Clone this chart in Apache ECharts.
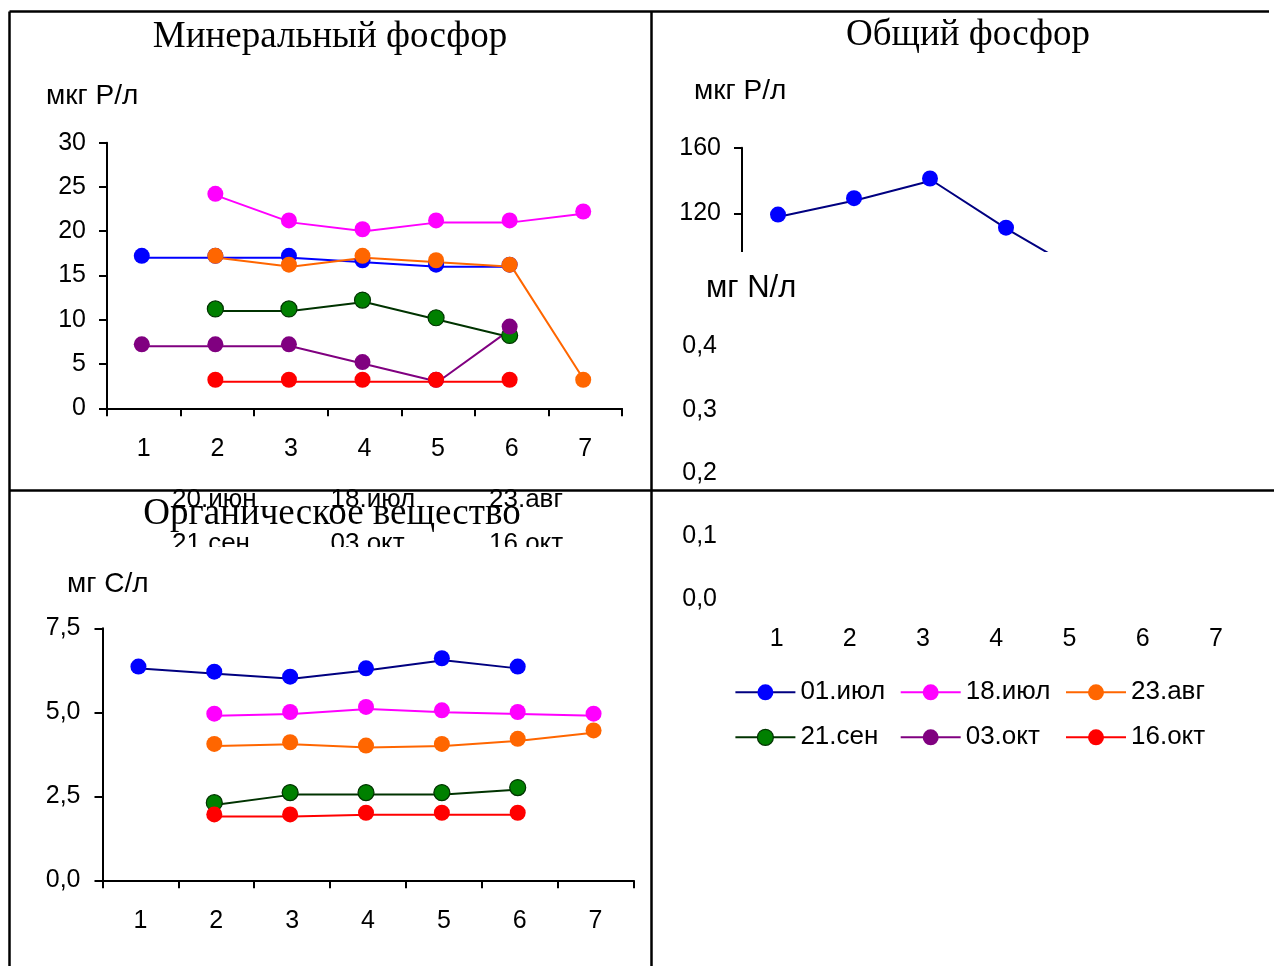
<!DOCTYPE html>
<html>
<head>
<meta charset="utf-8">
<title>Фосфор и органическое вещество</title>
<script src="https://cdn.jsdelivr.net/npm/echarts@6/dist/echarts.min.js"></script>
<style>
  html, body { margin: 0; padding: 0; background: #fff; }
  #chart { width: 1274px; height: 966px; }
</style>
</head>
<body>
<div id="chart"></div>
<script>
// Station numbers along the x axis
const categories = ['1', '2', '3', '4', '5', '6', '7'];

// Sampling dates (series names)
const dates = ['01.июл', '18.июл', '23.авг', '21.сен', '03.окт', '16.окт'];

// Минеральный фосфор, мкг P/л
const mineralP_0107 = [17, 17, 17, 16.5, 16, 16, null];
const mineralP_1807 = [null, 24, 21, 20, 21, 21, 22];
const mineralP_2308 = [null, 17, 16, 17, 16.5, 16, 3];
const mineralP_2109 = [null, 11, 11, 12, 10, 8, null];
const mineralP_0310 = [7, 7, 7, 5, 3, 9, null];
const mineralP_1610 = [null, 3, 3, 3, 3, 3, null];

// Общий фосфор, мкг P/л
const totalP_0107 = [118, 128, 140, 110, 83];

// Органическое вещество, мг C/л
const organicC_0107 = [6.3, 6.15, 6.0, 6.25, 6.55, 6.3, null];
const organicC_1807 = [null, 4.9, 4.95, 5.1, 5.0, 4.95, 4.9];
const organicC_2308 = [null, 4.0, 4.05, 3.95, 4.0, 4.15, 4.4];
const organicC_2109 = [null, 2.25, 2.55, 2.55, 2.55, 2.7, null];
const organicC_1610 = [null, 1.9, 1.9, 1.95, 1.95, 1.95, null];

// Dates of the earlier survey (partly hidden legend)
const earlierDatesRow1 = ['20.июн', '18.июл', '23.авг'];
const earlierDatesRow2 = ['21.сен', '03.окт', '16.окт'];

const SANS = '"Liberation Sans", Arial, sans-serif';
const SERIF = '"Liberation Serif", "Times New Roman", serif';

const marker = {
  '01.июл': { color: '#0000FF' },
  '18.июл': { color: '#FF00FF' },
  '23.авг': { color: '#FF6600' },
  '21.сен': { color: '#008000', borderColor: '#003300', borderWidth: 1.2 },
  '03.окт': { color: '#800080' },
  '16.окт': { color: '#FF0000' }
};
const lineColor = {
  '01.июл': '#000080',
  '18.июл': '#FF00FF',
  '23.авг': '#FF6600',
  '21.сен': '#003300',
  '03.окт': '#800080',
  '16.окт': '#FF0000'
};

function lineSeries(name, data, gridIdx, color) {
  return {
    type: 'line',
    name: name,
    data: data,
    xAxisIndex: gridIdx,
    yAxisIndex: gridIdx,
    symbol: 'circle',
    symbolSize: 16,
    symbolOffset: [-2, -2],
    clip: true,
    lineStyle: { color: color || lineColor[name], width: 2 },
    itemStyle: Object.assign({ borderWidth: 0 }, marker[name]),
    emphasis: { disabled: true }
  };
}

const axisLineStyle = { color: '#000', width: 2 };
const labelStyle = { fontSize: 25, fontFamily: SANS, color: '#000' };
const comma = v => v.toFixed(1).replace('.', ',');

function catAxis(gridIndex, opts) {
  return Object.assign({
    type: 'category',
    gridIndex: gridIndex,
    data: categories,
    boundaryGap: true,
    axisLine: { show: true, lineStyle: axisLineStyle },
    axisTick: { show: true, length: 8, lineStyle: axisLineStyle },
    axisLabel: Object.assign({ margin: 28 }, labelStyle),
    splitLine: { show: false }
  }, opts || {});
}

function valAxis(gridIndex, min, max, interval, opts) {
  return Object.assign({
    type: 'value',
    gridIndex: gridIndex,
    min: min,
    max: max,
    interval: interval,
    axisLine: { show: true, lineStyle: axisLineStyle },
    axisTick: { show: true, length: 8, lineStyle: axisLineStyle },
    axisLabel: Object.assign({ margin: 21, padding: [3, 0, 0, 0] }, labelStyle),
    splitLine: { show: false }
  }, opts || {});
}

function text(str, x, y, size, family, align, z) {
  return {
    type: 'text', x: x, y: y, z: z || 1,
    style: {
      text: str, fill: '#000', fontSize: size, fontFamily: family,
      align: align || 'left', verticalAlign: 'middle'
    }
  };
}
function hline(x1, x2, y) {
  return { type: 'line', z: 100, shape: { x1: x1, y1: y, x2: x2, y2: y }, style: { stroke: '#000', lineWidth: 2.5 } };
}
function vline(x, y1, y2) {
  return { type: 'line', z: 100, shape: { x1: x, y1: y1, x2: x, y2: y2 }, style: { stroke: '#000', lineWidth: 2.5 } };
}

const legendColumns = [[dates[0], dates[3]], [dates[1], dates[4]], [dates[2], dates[5]]];

const graphicElements = [
  text('Минеральный фосфор', 330, 37, 37, SERIF, 'center'),
  text('Общий фосфор', 968, 35, 37, SERIF, 'center'),
  text('мкг P/л', 46, 96, 28, SANS),
  text('мкг P/л', 694, 91, 28, SANS),
  // white panel of the nitrogen chart laid over the total phosphorus chart
  { type: 'rect', z: 50, shape: { x: 655, y: 252, width: 619, height: 60 }, style: { fill: '#fff' } },
  text('мг N/л', 706, 288, 31, SANS, 'left', 60),
  text('Органическое вещество', 332, 514, 37, SERIF, 'center'),
  text('мг C/л', 67, 584, 28, SANS)
];
earlierDatesRow1.forEach((d, i) => graphicElements.push(text(d, 172 + i * 158.5, 500, 26, SANS)));
earlierDatesRow2.forEach((d, i) => graphicElements.push(text(d, 172 + i * 158.5, 544, 26, SANS)));
graphicElements.push({ type: 'rect', z: 40, shape: { x: 160, y: 547, width: 420, height: 14 }, style: { fill: '#fff' } });
graphicElements.push(
  hline(9.5, 1269, 11.5),
  vline(9.5, 11.5, 966),
  vline(651.5, 11.5, 966),
  hline(9.5, 1274, 490.5)
);

const option = {
  animation: false,
  backgroundColor: '#fff',
  grid: [
    { left: 107, top: 142.7, width: 515, height: 265.6 },
    { left: 742, top: 147.7, width: 539, height: 131.2 },
    { left: 740, top: 346.5, width: 512.5, height: 252.5 },
    { left: 102.5, top: 628.3, width: 531, height: 252 }
  ],
  xAxis: [
    catAxis(0),
    catAxis(1, { show: false }),
    catAxis(2, { axisLine: { show: false }, axisTick: { show: false }, z: 60 }),
    catAxis(3)
  ],
  yAxis: [
    valAxis(0, 0, 30, 5),
    valAxis(1, 80, 160, 40),
    valAxis(2, 0, 0.4, 0.1, {
      axisLine: { show: false }, axisTick: { show: false }, z: 60,
      axisLabel: Object.assign({ margin: 23, padding: [3, 0, 0, 0], formatter: comma }, labelStyle)
    }),
    valAxis(3, 0, 7.5, 2.5, {
      axisLabel: Object.assign({ margin: 22, padding: [3, 0, 0, 0], formatter: comma }, labelStyle)
    })
  ],
  legend: legendColumns.map((names, i) => ({
    orient: 'vertical',
    left: 734.4 + i * 165.3,
    top: 679.3,
    padding: 0,
    itemWidth: 60,
    itemHeight: 20,
    itemGap: 19,
    selectedMode: false,
    z: 60,
    textStyle: { fontSize: 26, fontFamily: SANS, color: '#000', lineHeight: 24 },
    data: names.map(n => ({
      name: n,
      itemStyle: Object.assign({ borderWidth: 0 }, marker[n]),
      lineStyle: { color: lineColor[n], width: 2 }
    }))
  })),
  graphic: { elements: graphicElements },
  series: [
    lineSeries(dates[0], mineralP_0107, 0, '#0000FF'),
    lineSeries(dates[1], mineralP_1807, 0),
    lineSeries(dates[2], mineralP_2308, 0),
    lineSeries(dates[3], mineralP_2109, 0),
    lineSeries(dates[4], mineralP_0310, 0),
    lineSeries(dates[5], mineralP_1610, 0),

    lineSeries(dates[0], totalP_0107, 1),

    lineSeries(dates[0], organicC_0107, 3),
    lineSeries(dates[1], organicC_1807, 3),
    lineSeries(dates[2], organicC_2308, 3),
    lineSeries(dates[3], organicC_2109, 3),
    lineSeries(dates[5], organicC_1610, 3)
  ]
};

const chart = echarts.init(document.getElementById('chart'), null, { renderer: 'canvas' });
chart.setOption(option);
</script>
</body>
</html>
